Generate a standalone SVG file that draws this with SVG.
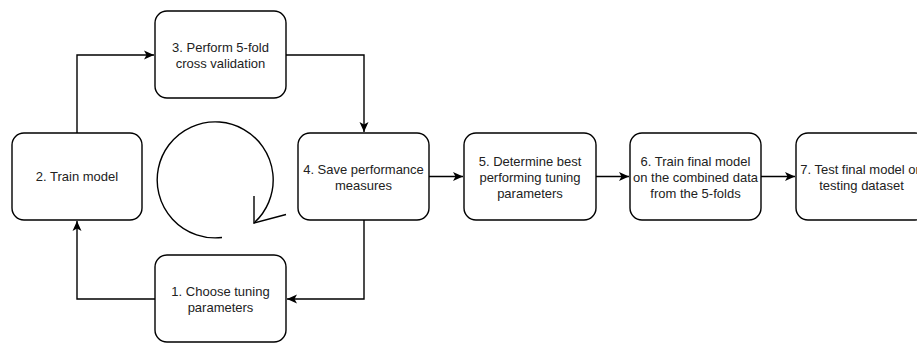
<svg xmlns="http://www.w3.org/2000/svg" width="917" height="344" viewBox="0 0 917 344">
<style>
.box{fill:#fff;stroke:#000;stroke-width:1.4}
.t{font-family:"Liberation Sans",Arial,sans-serif;font-size:13px;fill:#222;text-anchor:middle}
.c{fill:none;stroke:#000;stroke-width:1.4}
</style>
<defs>
<marker id="ah" markerUnits="userSpaceOnUse" markerWidth="12" markerHeight="10" refX="10" refY="5" orient="auto" viewBox="0 0 12 10">
<path d="M0,0.5 L10,5 L0,9.5 L2.5,5 Z" fill="#000"/>
</marker>
</defs>
<rect width="917" height="344" fill="#fff"/>
<g id="connectors">
<path class="c" d="M77,133 V55 H154" marker-end="url(#ah)"/>
<path class="c" d="M286,55 H364 V132" marker-end="url(#ah)"/>
<path class="c" d="M364,220 V299 H287" marker-end="url(#ah)"/>
<path class="c" d="M155,299 H77 V221" marker-end="url(#ah)"/>
<path class="c" d="M429,176.5 H463" marker-end="url(#ah)"/>
<path class="c" d="M596,176.5 H629" marker-end="url(#ah)"/>
<path class="c" d="M761,176.5 H795" marker-end="url(#ah)"/>
</g>
<g id="cycle">
<path class="c" d="M222,237.5 A58,58 0 1 1 254,223"/>
<path class="c" d="M254,196 L254,223 L286,214.5"/>
</g>
<g id="n3">
<rect class="box" x="155" y="11" width="131" height="87" rx="12"/>
<text class="t" x="220.5" y="51.5">3. Perform 5-fold</text>
<text class="t" x="220.5" y="67.5">cross validation</text>
</g>
<g id="n2">
<rect class="box" x="12" y="133" width="130" height="87" rx="12"/>
<text class="t" x="77" y="181">2. Train model</text>
</g>
<g id="n4">
<rect class="box" x="298" y="133" width="131" height="87" rx="12"/>
<text class="t" x="363.5" y="173.5">4. Save performance</text>
<text class="t" x="363.5" y="189.5">measures</text>
</g>
<g id="n1">
<rect class="box" x="155" y="255" width="131" height="87" rx="12"/>
<text class="t" x="220.5" y="295.5">1. Choose tuning</text>
<text class="t" x="220.5" y="311.5">parameters</text>
</g>
<g id="n5">
<rect class="box" x="464" y="133" width="132" height="87" rx="12"/>
<text class="t" x="530" y="165.5">5. Determine best</text>
<text class="t" x="530" y="181.5">performing tuning</text>
<text class="t" x="530" y="197.5">parameters</text>
</g>
<g id="n6">
<rect class="box" x="630" y="133" width="131" height="87" rx="12"/>
<text class="t" x="695.5" y="165.5">6. Train final model</text>
<text class="t" x="695.5" y="181.5">on the combined data</text>
<text class="t" x="695.5" y="197.5">from the 5-folds</text>
</g>
<g id="n7">
<rect class="box" x="796" y="133" width="131" height="87" rx="12"/>
<text class="t" x="861.5" y="173.5">7. Test final model on</text>
<text class="t" x="861.5" y="189.5">testing dataset</text>
</g>
</svg>
